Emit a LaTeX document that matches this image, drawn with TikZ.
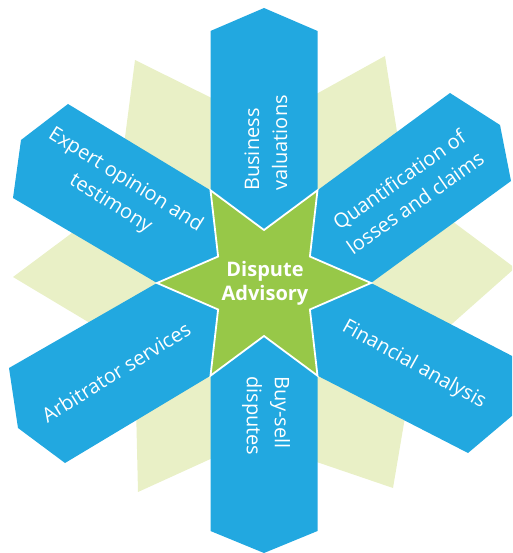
\documentclass[tikz,border=0pt]{standalone}
\usepackage{fontspec}
\setmainfont{Open Sans}
\definecolor{armblue}{HTML}{22A8E0}
\definecolor{hubgreen}{HTML}{97C848}
\definecolor{palestar}{HTML}{E9F0C6}
\begin{document}
\begin{tikzpicture}[x=1pt,y=-1pt,
  armshape/.style={fill=armblue},
  hubshape/.style={fill=hubgreen,draw=white,line width=1.8pt,line join=miter},
  backshape/.style={fill=palestar},
  armtext/.style={text=white,inner sep=0pt,font=\fontsize{20}{28}\selectfont},
  hubtext/.style={text=white,inner sep=0pt,align=center,font=\fontsize{20}{24}\bfseries\selectfont}]
\useasboundingbox (0,0) rectangle (512,553);
\clip (0,0) rectangle (512,553);

% star points and notches of the central hub
\coordinate (S0)   at (371,283);
\coordinate (S60)  at (317.5,190.3);
\coordinate (S120) at (210.5,190.3);
\coordinate (S180) at (157,283);
\coordinate (S240) at (210.5,375.7);
\coordinate (S300) at (317.5,375.7);
\coordinate (N30)  at (309.9,256.5);
\coordinate (N90)  at (264,230);
\coordinate (N150) at (218.1,256.5);
\coordinate (N210) at (218.1,309.5);
\coordinate (N270) at (264,336);
\coordinate (N330) at (309.9,309.5);

% large pale star behind everything
\fill[backshape] (135,60) -- (263,123.5) -- (385,56) -- (405.6,186.4) -- (515,268)
  -- (415.3,356.4) -- (393,488) -- (252.2,440) -- (138,492) -- (134.7,349.8)
  -- (13,277) -- (117,199.3) -- cycle;

% six arms
\fill[armshape] (S120) -- (210.5,31) -- (264,8) -- (317.5,31) -- (S60) -- (N90) -- cycle;
\fill[armshape] (S60) -- (450,93) -- (500,125) -- (511,181) -- (S0) -- (N30) -- cycle;
\fill[armshape] (S0) -- (516,358) -- (513,415) -- (468,453) -- (S300) -- (N330) -- cycle;
\fill[armshape] (S300) -- (317.5,531) -- (264,553) -- (210.5,531) -- (S240) -- (N270) -- cycle;
\fill[armshape] (S240) -- (65,463) -- (18,428) -- (9,368) -- (S180) -- (N210) -- cycle;
\fill[armshape] (S180) -- (13,198) -- (21,140) -- (68,104) -- (S120) -- (N150) -- cycle;

% central hub
\path[hubshape] (S0) -- (N30) -- (S60) -- (N90) -- (S120) -- (N150) -- (S180)
  -- (N210) -- (S240) -- (N270) -- (S300) -- (N330) -- cycle;

% labels
\node[hubtext] (hub) at (265,283) {Dispute\\Advisory};
\node[armtext,align=left,rotate=90,anchor=west] (bv) at (266,191) {Business\\valuations};
\node[armtext,align=center,rotate=35] (ql) at (407,191) {Quantification of\\losses and claims};
\node[armtext,rotate=-29] (fa) at (414,365) {Financial analysis};
\node[armtext,align=left,rotate=-90,anchor=west] (bs) at (266,376) {Buy-sell\\disputes};
\node[armtext,rotate=32] (as) at (116,372) {Arbitrator services};
\node[armtext,align=center,rotate=-32] (eo) at (118,192) {Expert opinion and\\testimony};
\end{tikzpicture}
\end{document}
